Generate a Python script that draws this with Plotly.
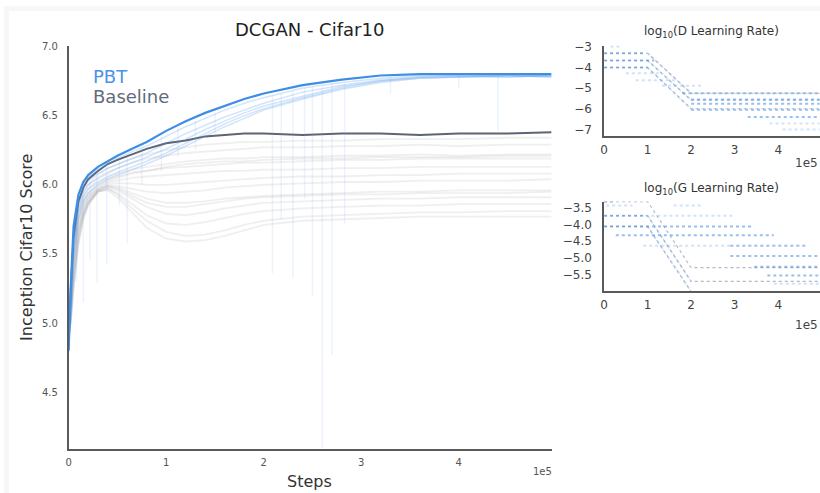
import plotly.graph_objects as go

# ---------------- data ----------------
STEPS = [0, 2000, 5000, 10000, 15000, 20000, 30000, 40000, 50000, 65000, 80000, 100000,
         120000, 140000, 160000, 180000, 200000, 240000, 280000, 320000, 360000, 400000, 450000, 495000]

PBT_BEST = [4.80, 5.25, 5.70, 5.93, 6.02, 6.07, 6.13, 6.17, 6.21, 6.26, 6.31, 6.39,
            6.46, 6.52, 6.57, 6.62, 6.66, 6.72, 6.76, 6.79, 6.80, 6.80, 6.80, 6.80]
BASELINE_BEST = [4.85, 5.22, 5.62, 5.88, 5.98, 6.04, 6.10, 6.15, 6.18, 6.22, 6.26, 6.30,
                 6.32, 6.35, 6.36, 6.37, 6.37, 6.36, 6.37, 6.37, 6.36, 6.37, 6.37, 6.38]

BASE_RUN_01 = [4.88, 5.20, 5.60, 5.84, 5.95, 6.00, 6.07, 6.12, 6.15, 6.19, 6.22, 6.25, 6.27, 6.29, 6.30, 6.31, 6.31, 6.32, 6.32, 6.33, 6.33, 6.33, 6.34, 6.34]
BASE_RUN_02 = [4.90, 5.15, 5.55, 5.80, 5.91, 5.97, 6.04, 6.08, 6.12, 6.16, 6.19, 6.21, 6.23, 6.24, 6.25, 6.26, 6.27, 6.27, 6.28, 6.28, 6.29, 6.28, 6.29, 6.29]
BASE_RUN_03 = [4.90, 5.12, 5.50, 5.76, 5.88, 5.94, 6.01, 6.05, 6.08, 6.11, 6.13, 6.15, 6.17, 6.18, 6.19, 6.19, 6.20, 6.20, 6.21, 6.21, 6.22, 6.21, 6.22, 6.22]
BASE_RUN_04 = [4.92, 5.10, 5.46, 5.74, 5.86, 5.92, 5.99, 6.03, 6.06, 6.09, 6.10, 6.12, 6.13, 6.14, 6.15, 6.16, 6.16, 6.17, 6.18, 6.18, 6.19, 6.19, 6.19, 6.19]
BASE_RUN_05 = [4.93, 5.08, 5.42, 5.70, 5.83, 5.90, 5.97, 6.01, 6.03, 6.05, 6.06, 6.07, 6.08, 6.09, 6.10, 6.10, 6.11, 6.11, 6.12, 6.12, 6.13, 6.13, 6.13, 6.13]
BASE_RUN_06 = [4.95, 5.05, 5.38, 5.68, 5.82, 5.90, 5.97, 6.00, 6.01, 6.01, 6.00, 6.00, 6.01, 6.02, 6.03, 6.04, 6.05, 6.06, 6.06, 6.07, 6.07, 6.08, 6.08, 6.08]
BASE_RUN_07 = [4.95, 5.05, 5.35, 5.66, 5.80, 5.88, 5.96, 5.99, 5.99, 5.97, 5.95, 5.94, 5.95, 5.96, 5.98, 5.99, 6.00, 6.01, 6.02, 6.02, 6.03, 6.03, 6.03, 6.04]
BASE_RUN_08 = [4.96, 5.03, 5.32, 5.64, 5.79, 5.87, 5.96, 5.99, 5.98, 5.94, 5.90, 5.87, 5.87, 5.88, 5.90, 5.91, 5.92, 5.93, 5.94, 5.95, 5.95, 5.96, 5.96, 5.96]
BASE_RUN_09 = [4.97, 5.02, 5.30, 5.62, 5.78, 5.87, 5.95, 5.98, 5.96, 5.90, 5.84, 5.79, 5.78, 5.80, 5.83, 5.85, 5.87, 5.88, 5.89, 5.90, 5.90, 5.91, 5.91, 5.91]
BASE_RUN_10 = [4.97, 5.00, 5.28, 5.60, 5.77, 5.86, 5.95, 5.97, 5.94, 5.86, 5.78, 5.72, 5.71, 5.73, 5.76, 5.79, 5.81, 5.83, 5.84, 5.85, 5.85, 5.86, 5.86, 5.86]
BASE_RUN_11 = [4.98, 5.00, 5.26, 5.58, 5.76, 5.86, 5.95, 5.97, 5.93, 5.83, 5.74, 5.66, 5.63, 5.64, 5.67, 5.71, 5.74, 5.77, 5.78, 5.79, 5.80, 5.80, 5.81, 5.81]
BASE_RUN_12 = [4.98, 5.00, 5.25, 5.57, 5.75, 5.85, 5.95, 5.96, 5.91, 5.80, 5.69, 5.61, 5.59, 5.60, 5.63, 5.67, 5.71, 5.74, 5.75, 5.76, 5.77, 5.77, 5.77, 5.77]
BASE_RUN_13 = [4.92, 5.10, 5.45, 5.72, 5.85, 5.92, 5.98, 6.02, 6.05, 6.08, 6.10, 6.13, 6.15, 6.16, 6.17, 6.17, 6.18, 6.19, 6.19, 6.20, 6.20, 6.20, 6.21, 6.21]
BASE_RUN_14 = [4.95, 5.05, 5.36, 5.66, 5.80, 5.88, 5.96, 5.99, 5.97, 5.92, 5.87, 5.84, 5.84, 5.86, 5.88, 5.90, 5.91, 5.92, 5.93, 5.93, 5.94, 5.94, 5.94, 5.95]
BASE_RUNS = [BASE_RUN_01, BASE_RUN_02, BASE_RUN_03, BASE_RUN_04, BASE_RUN_05, BASE_RUN_06, BASE_RUN_07,
             BASE_RUN_08, BASE_RUN_09, BASE_RUN_10, BASE_RUN_11, BASE_RUN_12, BASE_RUN_13, BASE_RUN_14]

PBT_RUN_1 = [4.82, 5.20, 5.65, 5.90, 6.00, 6.05, 6.11, 6.15, 6.19, 6.24, 6.28, 6.35, 6.42, 6.48, 6.54, 6.59, 6.63, 6.70, 6.74, 6.77, 6.79, 6.79, 6.79, 6.79]
PBT_RUN_2 = [4.85, 5.15, 5.60, 5.86, 5.97, 6.03, 6.08, 6.12, 6.15, 6.19, 6.23, 6.30, 6.37, 6.43, 6.49, 6.54, 6.59, 6.67, 6.72, 6.76, 6.78, 6.79, 6.78, 6.79]
PBT_RUN_3 = [4.88, 5.10, 5.55, 5.83, 5.94, 6.00, 6.05, 6.09, 6.12, 6.16, 6.20, 6.26, 6.33, 6.40, 6.46, 6.52, 6.57, 6.64, 6.71, 6.75, 6.78, 6.78, 6.79, 6.78]
PBT_RUN_4 = [4.90, 5.05, 5.50, 5.80, 5.91, 5.97, 6.02, 6.06, 6.09, 6.13, 6.17, 6.23, 6.30, 6.37, 6.44, 6.50, 6.55, 6.63, 6.70, 6.75, 6.77, 6.78, 6.78, 6.79]
PBT_RUN_5 = [4.92, 5.00, 5.45, 5.76, 5.88, 5.94, 6.00, 6.04, 6.07, 6.11, 6.15, 6.21, 6.28, 6.35, 6.42, 6.48, 6.54, 6.62, 6.69, 6.74, 6.77, 6.78, 6.79, 6.78]
PBT_RUNS = [PBT_RUN_1, PBT_RUN_2, PBT_RUN_3, PBT_RUN_4, PBT_RUN_5]

# sudden drops of PBT members (exploit/explore events)
SPIKE_STEPS = [8000, 15000, 22000, 29000, 39000, 52000, 60000, 75000, 95000, 112000, 130000, 150000,
               209000, 218000, 230000, 242000, 250000, 260000, 270000, 283000, 330000, 400000, 440000]
SPIKE_TOP = [5.90, 6.00, 6.06, 6.10, 6.15, 6.20, 6.22, 6.27, 6.35, 6.42, 6.46, 6.52,
             6.65, 6.66, 6.68, 6.70, 6.71, 6.72, 6.73, 6.74, 6.78, 6.79, 6.79]
SPIKE_LOW = [5.30, 5.15, 5.45, 5.29, 5.43, 5.85, 5.58, 6.00, 6.10, 6.20, 6.25, 6.35,
             5.36, 5.75, 5.33, 5.90, 5.20, 4.09, 4.77, 5.72, 6.66, 6.70, 6.39]

# learning-rate panels: segments (start step, end step, start log10 lr, end log10 lr)
D_PBT_MAIN_X0 = [0, 0, 0, 180000, 200000, 200000, 200000, 330000]
D_PBT_MAIN_X1 = [95000, 115000, 100000, 495000, 495000, 495000, 495000, 495000]
D_PBT_MAIN_Y0 = [-3.32, -3.67, -4.01, -5.25, -5.55, -5.76, -6.05, -6.40]
D_PBT_MAIN_Y1 = [-3.32, -3.67, -4.01, -5.25, -5.55, -5.76, -6.05, -6.40]
D_PBT_FAINT_X0 = [15000, 50000, 73000, 133000, 380000, 410000, 100000, 100000, 100000]
D_PBT_FAINT_X1 = [40000, 133000, 164000, 224000, 495000, 495000, 200000, 200000, 200000]
D_PBT_FAINT_Y0 = [-3.00, -4.29, -4.62, -4.89, -6.71, -7.00, -3.32, -3.67, -4.01]
D_PBT_FAINT_Y1 = [-3.00, -4.29, -4.62, -4.89, -6.71, -7.00, -5.25, -5.58, -6.00]
D_BASE_START = [-3.32, -3.67, -4.01]
D_BASE_END = [-5.25, -5.58, -6.00]

G_PBT_MAIN_X0 = [0, 0, 0, 27000, 290000, 290000, 345000, 375000]
G_PBT_MAIN_X1 = [20000, 95000, 345000, 390000, 465000, 495000, 495000, 495000]
G_PBT_MAIN_Y0 = [-3.32, -3.74, -4.06, -4.32, -4.64, -4.94, -5.26, -5.52]
G_PBT_MAIN_Y1 = [-3.32, -3.74, -4.06, -4.32, -4.64, -4.94, -5.26, -5.52]
G_PBT_FAINT_X0 = [5000, 160000, 95000, 90000, 390000, 100000, 100000]
G_PBT_FAINT_X1 = [65000, 225000, 300000, 290000, 495000, 200000, 200000]
G_PBT_FAINT_Y0 = [-3.44, -3.44, -3.74, -4.64, -5.77, -3.74, -4.06]
G_PBT_FAINT_Y1 = [-3.44, -3.44, -3.74, -4.64, -5.77, -5.70, -6.00]
G_BASE_START = [-3.32, -3.74, -4.06]
G_BASE_END = [-5.29, -5.70, -6.00]

DECAY_STEPS = [0, 100000, 200000, 495000]

MAIN_XTICKS = [0, 100000, 200000, 300000, 400000]
MAIN_XTICK_TEXT = ["0", "1", "2", "3", "4"]
MAIN_YTICKS = [4.5, 5.0, 5.5, 6.0, 6.5, 7.0]
MAIN_YTICK_TEXT = ["4.5", "5.0", "5.5", "6.0", "6.5", "7.0"]
D_YTICKS = [-3, -4, -5, -6, -7]
D_YTICK_TEXT = ["\u22123", "\u22124", "\u22125", "\u22126", "\u22127"]
G_YTICKS = [-3.5, -4.0, -4.5, -5.0, -5.5]
G_YTICK_TEXT = ["\u22123.5", "\u22124.0", "\u22124.5", "\u22125.0", "\u22125.5"]

# ---------------- styling / layout ----------------
W, H = 820, 493
FONT = "DejaVu Sans"
BLUE = "#3f8ee6"
DARK = "#5d6473"


def px(x):
    return x / W


def py(y):
    return 1 - y / H


def seg_xy(x0s, x1s, y0s, y1s):
    xs, ys = [], []
    for a, b, c, d in zip(x0s, x1s, y0s, y1s):
        xs += [a, b, None]
        ys += [c, d, None]
    return xs, ys


def sched_xy(starts, ends):
    xs, ys = [], []
    for s, e in zip(starts, ends):
        xs += DECAY_STEPS + [None]
        ys += [s, s, e, e, None]
    return xs, ys


fig = go.Figure()

# baseline population
for run in BASE_RUNS:
    fig.add_trace(go.Scatter(x=STEPS, y=run, mode="lines",
                             line=dict(color="rgba(180,182,188,0.22)", width=1.8),
                             hoverinfo="skip", showlegend=False))
fig.add_trace(go.Scatter(x=STEPS, y=BASELINE_BEST, mode="lines",
                         line=dict(color=DARK, width=2), showlegend=False))

# PBT population + drops
sx, sy = [], []
for s, t, l in zip(SPIKE_STEPS, SPIKE_TOP, SPIKE_LOW):
    sx += [s, s, None]
    sy += [t, l, None]
fig.add_trace(go.Scatter(x=sx, y=sy, mode="lines",
                         line=dict(color="rgba(120,170,235,0.14)", width=1.5),
                         hoverinfo="skip", showlegend=False))
for run in PBT_RUNS:
    fig.add_trace(go.Scatter(x=STEPS, y=run, mode="lines",
                             line=dict(color="rgba(80,150,235,0.25)", width=1.5),
                             hoverinfo="skip", showlegend=False))
fig.add_trace(go.Scatter(x=STEPS, y=PBT_BEST, mode="lines",
                         line=dict(color=BLUE, width=2.2), showlegend=False))

# learning-rate panels
for (xa, ya, bs, be, mx0, mx1, my0, my1, fx0, fx1, fy0, fy1) in [
    ("x2", "y2", D_BASE_START, D_BASE_END, D_PBT_MAIN_X0, D_PBT_MAIN_X1, D_PBT_MAIN_Y0, D_PBT_MAIN_Y1,
     D_PBT_FAINT_X0, D_PBT_FAINT_X1, D_PBT_FAINT_Y0, D_PBT_FAINT_Y1),
    ("x3", "y3", G_BASE_START, G_BASE_END, G_PBT_MAIN_X0, G_PBT_MAIN_X1, G_PBT_MAIN_Y0, G_PBT_MAIN_Y1,
     G_PBT_FAINT_X0, G_PBT_FAINT_X1, G_PBT_FAINT_Y0, G_PBT_FAINT_Y1),
]:
    bx, by = sched_xy(bs, be)
    fig.add_trace(go.Scatter(x=bx, y=by, xaxis=xa, yaxis=ya, mode="lines",
                             line=dict(color="rgba(110,115,135,0.5)", width=1.1, dash="dot"),
                             hoverinfo="skip", showlegend=False))
    fxs, fys = seg_xy(fx0, fx1, fy0, fy1)
    fig.add_trace(go.Scatter(x=fxs, y=fys, xaxis=xa, yaxis=ya, mode="lines",
                             line=dict(color="rgba(90,155,235,0.28)", width=2, dash="dot"),
                             hoverinfo="skip", showlegend=False))
    mxs, mys = seg_xy(mx0, mx1, my0, my1)
    fig.add_trace(go.Scatter(x=mxs, y=mys, xaxis=xa, yaxis=ya, mode="lines",
                             line=dict(color="rgba(70,140,230,0.55)", width=2, dash="dot"),
                             hoverinfo="skip", showlegend=False))

axis_common = dict(showline=True, linecolor="#5a5a5a", linewidth=1.6, showgrid=False,
                   zeroline=False, ticks="outside", tickcolor="rgba(0,0,0,0)", ticklen=4,
                   fixedrange=True)
small_x = dict(axis_common, ticklen=1)
main_y = dict(axis_common, ticklen=7)
small_y = dict(axis_common, ticklen=8)

fig.update_layout(
    width=W, height=H,
    margin=dict(l=0, r=0, t=0, b=0),
    paper_bgcolor="white", plot_bgcolor="white",
    font=dict(family=FONT, color="#555"),
    xaxis=dict(domain=[px(65), px(551)], range=[0, 496000], anchor="y",
               tickvals=MAIN_XTICKS, ticktext=MAIN_XTICK_TEXT,
               tickfont=dict(size=10, color="#555"), **axis_common),
    yaxis=dict(domain=[py(448), py(40)], range=[4.093, 7.007], anchor="x",
               tickvals=MAIN_YTICKS, ticktext=MAIN_YTICK_TEXT,
               tickfont=dict(size=10, color="#555"), **main_y),
    xaxis2=dict(domain=[px(603), 1.0], range=[0, 496000], anchor="y2",
                tickvals=MAIN_XTICKS, ticktext=MAIN_XTICK_TEXT,
                tickfont=dict(size=12, color="#444"), **small_x),
    yaxis2=dict(domain=[py(132), py(40)], range=[-7.33, -2.95], anchor="x2",
                tickvals=D_YTICKS, ticktext=D_YTICK_TEXT,
                tickfont=dict(size=12, color="#444"), **small_y),
    xaxis3=dict(domain=[px(603), 1.0], range=[0, 496000], anchor="y3",
                tickvals=MAIN_XTICKS, ticktext=MAIN_XTICK_TEXT,
                tickfont=dict(size=12, color="#444"), **small_x),
    yaxis3=dict(domain=[py(289), py(198)], range=[-6.0, -3.32], anchor="x3",
                tickvals=G_YTICKS, ticktext=G_YTICK_TEXT,
                tickfont=dict(size=12, color="#444"), **small_y),
    showlegend=False,
)

# light frame at top/left like the source screenshot
fig.add_shape(type="rect", xref="paper", yref="paper", x0=0, x1=px(5), y0=0, y1=1,
              fillcolor="#f7f7f7", line_width=0, layer="below")
fig.add_shape(type="rect", xref="paper", yref="paper", x0=0, x1=1, y0=py(5), y1=1,
              fillcolor="#f7f7f7", line_width=0, layer="below")

ann = [
    dict(text="DCGAN - Cifar10", x=px(307), y=py(24), font=dict(size=18, color="#222")),
    dict(text="Steps", x=px(307), y=py(481), font=dict(size=16, color="#333")),
    dict(text="Inception Cifar10 Score", x=px(22), y=py(244), textangle=-90,
         font=dict(size=16, color="#333")),
    dict(text="1e5", x=px(541), y=py(471), font=dict(size=10, color="#555")),
    dict(text="PBT", x=px(87), y=py(71), xanchor="left", font=dict(size=18, color="#4a93e6")),
    dict(text="Baseline", x=px(87), y=py(92), xanchor="left", font=dict(size=18, color="#626a7c")),
    dict(text="log<sub>10</sub>(D Learning Rate)", x=px(711), y=py(26), font=dict(size=12, color="#333")),
    dict(text="1e5", x=px(806), y=py(159), font=dict(size=12, color="#444")),
    dict(text="log<sub>10</sub>(G Learning Rate)", x=px(711), y=py(185), font=dict(size=12, color="#333")),
    dict(text="1e5", x=px(806), y=py(323), font=dict(size=12, color="#444")),
]
for a in ann:
    a.setdefault("xanchor", "center")
    fig.add_annotation(xref="paper", yref="paper", showarrow=False, yanchor="middle",
                       font_family=FONT, **a)

fig.write_html("out.html", config={"displayModeBar": False},
               post_script="document.body.style.margin='0';")
